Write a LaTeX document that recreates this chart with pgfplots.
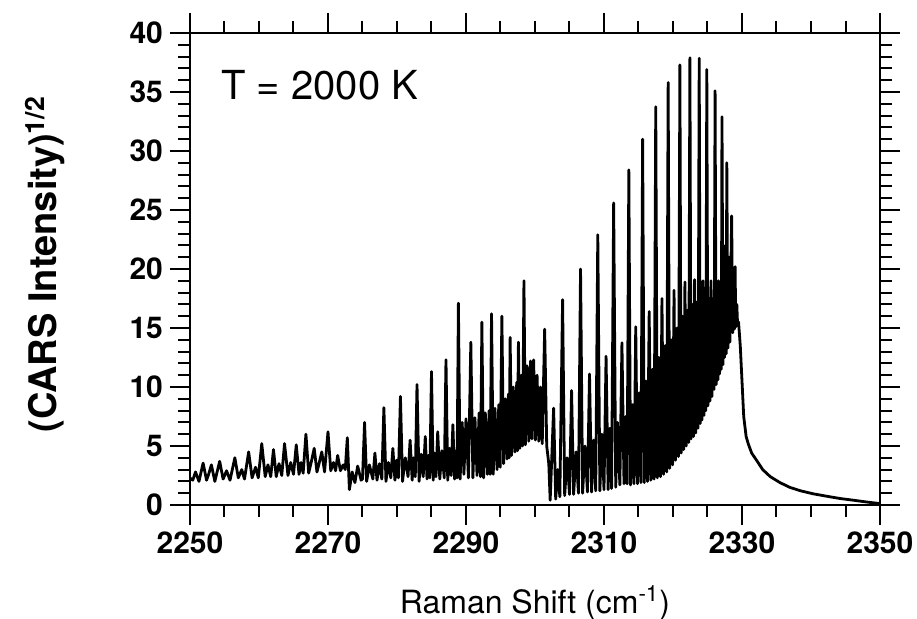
\documentclass[border=0pt]{standalone}
\usepackage{fontspec}
\setmainfont{TeX Gyre Heros}
\usepackage{pgfplots}
\pgfplotsset{compat=1.18}

\begin{document}
\begin{tikzpicture}
% page size follows the reference: axis box 345pt x 236pt with its margins
\useasboundingbox (-95pt,-57pt) rectangle (363.5pt,252.5pt);
\begin{axis}[
    at={(0pt,0pt)}, anchor=south west,
    scale only axis,
    width=345pt, height=236pt,
    xmin=2250, xmax=2350,
    ymin=0, ymax=40,
    xtick={2250,2270,...,2350},
    minor x tick num=3,
    ytick={0,5,...,40},
    minor y tick num=4,
    tick align=outside,
    major tick length=10pt,
    minor tick length=6pt,
    tick style={line width=1pt, black},
    axis line style={line width=1.2pt},
    /pgf/number format/assume math mode=true,
    /pgf/number format/1000 sep={},
    tick label style={font=\bfseries\fontsize{15}{15}\selectfont},
    xlabel={Raman Shift (cm\textsuperscript{-1})},
    ylabel={\bfseries (CARS Intensity)\textsuperscript{1/2}},
    xlabel style={font=\fontsize{16}{16}\selectfont, at={(axis description cs:0.5,-0.208)}, anchor=center},
    ylabel style={font=\fontsize{19}{19}\selectfont, at={(axis description cs:-0.21,0.51)}, anchor=center},
]
\addplot[black, line width=1.4pt, line join=round] coordinates {
(2250.0,2.3) (2250.4,2.1) (2250.8,2.8) (2251.3,2.0) (2251.9,3.55) (2252.4,2.1)
(2252.7,2.6) (2253.1,3.4) (2253.6,2.0) (2254.3,3.7) (2254.8,2.2) (2255.3,2.9)
(2255.8,2.1) (2256.5,4.0) (2257.0,2.3) (2257.5,3.0) (2257.9,2.2) (2258.5,4.5)
(2259.0,2.3) (2259.5,3.2) (2259.9,2.3) (2260.4,5.2) (2260.9,2.4) (2261.3,3.4)
(2261.7,2.4) (2262.1,4.7) (2262.5,2.4) (2262.9,3.5) (2263.3,2.5) (2263.7,5.2)
(2264.2,2.5) (2264.6,3.6) (2265.0,2.6) (2265.4,5.1) (2265.8,2.6) (2266.1,3.6)
(2266.4,2.7) (2266.8,6.0) (2267.2,2.7) (2267.6,3.7) (2268.0,4.8) (2268.4,2.8)
(2268.7,3.5) (2269.1,4.5) (2269.5,2.8) (2270.0,6.2) (2270.4,2.9) (2270.8,3.6)
(2271.1,2.9) (2271.4,4.2) (2271.8,2.9) (2272.2,3.4) (2272.5,3.0) (2272.8,5.7)
(2273.1,1.3) (2273.5,2.8) (2273.9,1.9) (2274.3,3.3) (2274.8,2.1) (2275.0,2.2)
(2275.3,7.0) (2275.6,2.0) (2276.0,3.4) (2276.5,2.2) (2276.8,4.4) (2277.1,2.1)
(2277.45,3.5) (2277.8,2.2) (2278.1,8.25) (2278.4,2.0) (2278.75,3.6) (2279.1,2.3)
(2279.4,4.8) (2279.7,2.1) (2279.95,3.8) (2280.2,2.3) (2280.5,9.2) (2280.8,2.0)
(2281.2,4.0) (2281.6,2.4) (2281.9,5.5) (2282.2,2.1) (2282.4,4.0) (2282.65,2.4)
(2282.9,10.2) (2283.2,2.0) (2283.5,4.3) (2283.8,2.4) (2284.1,5.8) (2284.35,2.2)
(2284.55,4.2) (2284.75,2.3) (2285.0,11.3) (2285.25,2.1) (2285.45,4.4) (2285.65,2.4)
(2285.9,6.2) (2286.2,2.2) (2286.5,4.6) (2286.85,2.3) (2287.1,12.3) (2287.35,2.1)
(2287.6,4.8) (2287.85,2.5) (2288.1,6.8) (2288.35,2.2) (2288.55,4.6) (2288.7,2.3)
(2288.9,17.1) (2289.15,2.2) (2289.45,7.0) (2289.7,2.6) (2290.0,7.3) (2290.35,2.3)
(2290.7,13.8) (2291.0,2.3) (2291.3,7.4) (2291.6,2.5) (2291.9,7.8) (2292.1,2.4)
(2292.3,15.5) (2292.55,2.3) (2292.8,7.8) (2293.1,2.6) (2293.35,8.0) (2293.5,2.6)
(2293.7,16.2) (2293.95,2.6) (2294.2,8.2) (2294.5,3.0) (2294.75,8.5) (2294.95,3.2)
(2295.2,16.0) (2295.45,3.5) (2295.7,9.0) (2295.95,3.9) (2296.15,9.4) (2296.25,4.0)
(2296.4,14.2) (2296.6,4.2) (2296.85,10.0) (2297.1,4.5) (2297.35,10.4) (2297.45,4.6)
(2297.6,13.8) (2297.8,4.8) (2298.05,11.0) (2298.2,5.0) (2298.4,19.0) (2298.6,5.1)
(2298.85,11.8) (2299.1,5.4) (2299.35,12.2) (2299.55,5.6) (2299.8,12.3) (2300.05,5.5)
(2300.3,11.0) (2300.55,5.4) (2300.8,10.0) (2301.05,5.2) (2301.4,14.9) (2301.7,5.0)
(2302.0,3.5) (2302.2,0.4) (2302.7,8.2) (2303.0,0.5) (2303.3,3.0) (2303.6,0.7)
(2304.0,17.4) (2304.3,0.8) (2304.65,4.0) (2305.0,0.9) (2305.3,9.7) (2305.6,0.9)
(2305.95,4.5) (2306.3,1.0) (2306.6,20.0) (2306.9,1.0) (2307.25,5.0) (2307.6,1.1)
(2307.9,11.1) (2308.2,1.1) (2308.5,5.5) (2308.8,1.2) (2309.1,22.9) (2309.4,1.2)
(2309.7,6.0) (2310.0,1.3) (2310.3,12.6) (2310.6,1.3) (2310.85,6.5) (2311.1,1.4)
(2311.4,25.6) (2311.7,1.5) (2311.95,7.0) (2312.3,1.7) (2312.6,13.75) (2312.9,1.8)
(2313.15,7.5) (2313.35,1.8) (2313.6,28.4)
(2313.85,1.7) (2314.1,8.5) (2314.35,1.8) (2314.6,15.1) (2314.85,1.8) (2315.1,9.5)
(2315.35,1.9) (2315.6,31.0)
(2315.84,1.9) (2316.08,10.5) (2316.31,2.0) (2316.55,16.4) (2316.79,2.1) (2317.03,11.5)
(2317.26,2.2) (2317.5,33.75)
(2317.73,2.3) (2317.95,12.5) (2318.18,2.4) (2318.4,17.5) (2318.63,2.6) (2318.85,13.5)
(2319.08,2.8) (2319.3,35.8)
(2319.51,3.1) (2319.73,14.0) (2319.94,3.4) (2320.15,18.2) (2320.36,3.8) (2320.58,15.0)
(2320.79,4.1) (2321.0,37.3)
(2321.18,4.4) (2321.36,16.0) (2321.54,4.7) (2321.73,18.9) (2321.91,5.0) (2322.09,16.5)
(2322.27,5.3) (2322.45,37.9)
(2322.62,5.6) (2322.79,17.0) (2322.96,5.8) (2323.13,19.1) (2323.29,6.1) (2323.46,17.2)
(2323.63,6.5) (2323.8,37.85)
(2323.95,6.9) (2324.1,17.0) (2324.2,7.2) (2324.35,19.0) (2324.5,7.6) (2324.65,17.5)
(2324.75,8.0) (2324.9,36.9)
(2325.05,8.4) (2325.2,17.5) (2325.35,8.8) (2325.5,19.0) (2325.65,9.2) (2325.8,17.5)
(2325.95,9.8) (2326.1,35.1)
(2326.25,10.2) (2326.4,18.0) (2326.5,10.6) (2326.6,19.0) (2326.75,11.1) (2326.9,18.5)
(2327.0,11.5) (2327.1,32.9)
(2327.25,11.9) (2327.35,19.5) (2327.45,12.5) (2327.6,22.0) (2327.7,12.8) (2327.8,29.0)
(2327.95,13.3) (2328.1,21.0) (2328.25,13.8) (2328.5,24.5)
(2328.65,14.6) (2328.8,18.0) (2328.9,14.9) (2329.0,20.2)
(2329.1,15.1) (2329.25,17.0) (2329.35,15.4) (2329.5,15.5)
(2329.75,13.5) (2330.0,10.5) (2330.25,7.5) (2330.6,5.8) (2330.9,5.2) (2331.4,4.4)
(2332.1,3.8) (2333.0,3.0) (2334.1,2.4) (2335.5,1.9) (2336.9,1.5) (2338.5,1.2)
(2340.3,0.95) (2342.2,0.75) (2344.2,0.55) (2346.2,0.4) (2348.1,0.25) (2350.0,0.12)
};
\node[font=\fontsize{20}{20}\selectfont] at (axis description cs:0.188,0.89) {T = 2000 K};
\end{axis}
\end{tikzpicture}
\end{document}
